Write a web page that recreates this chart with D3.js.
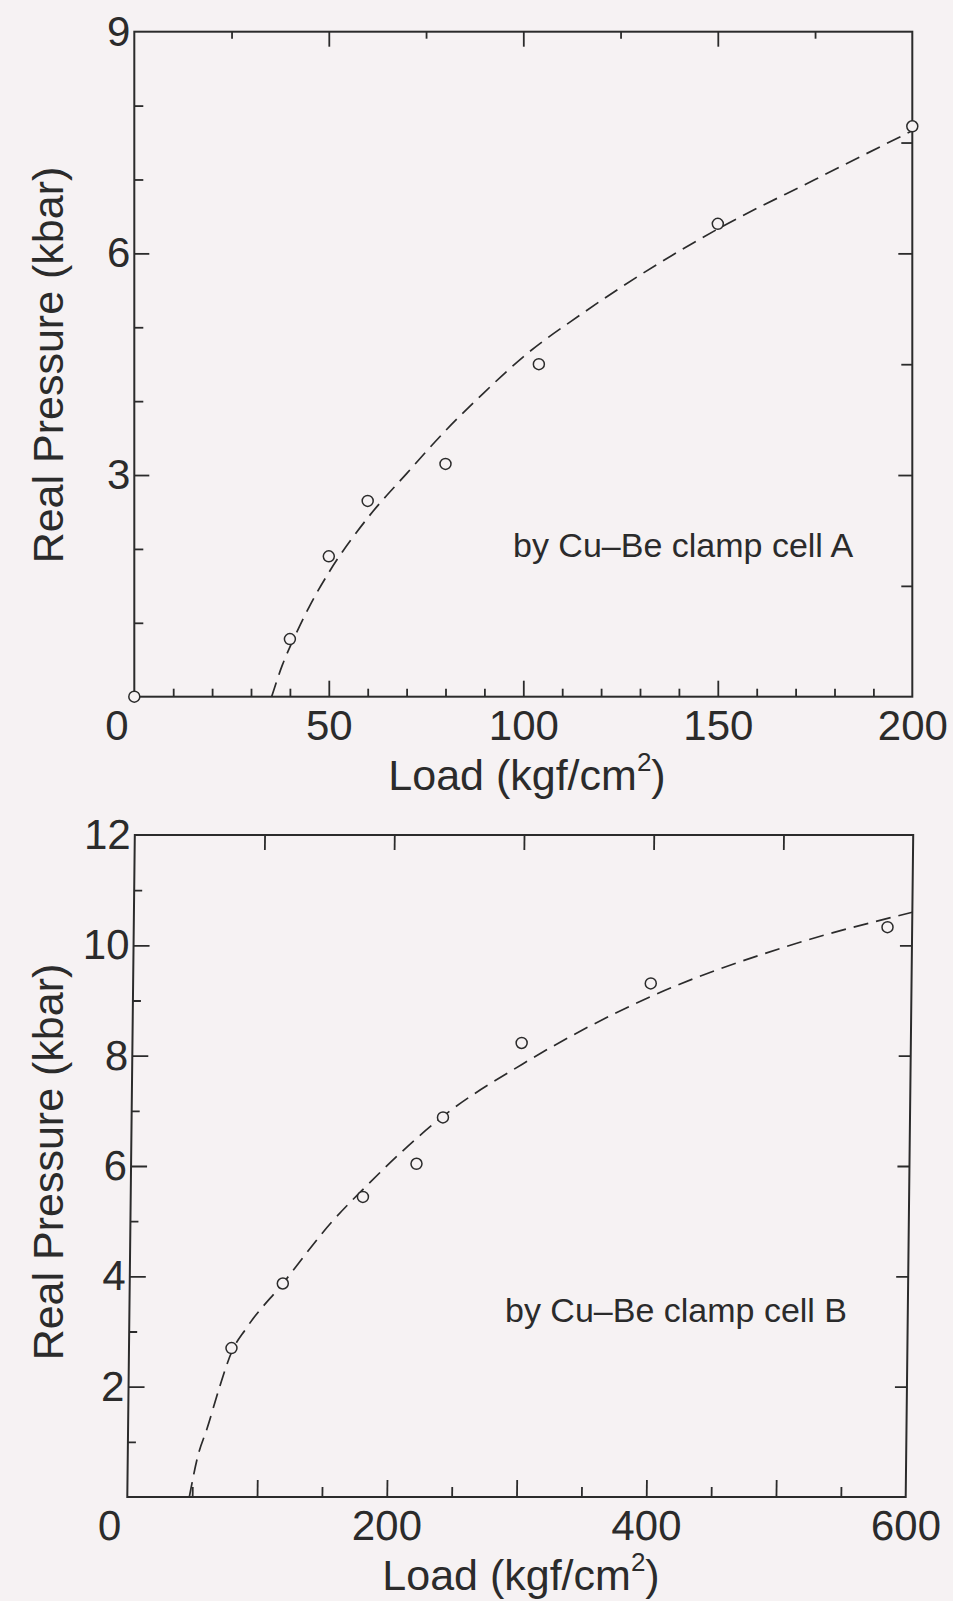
<!DOCTYPE html>
<html>
<head>
<meta charset="utf-8">
<script src="https://cdn.jsdelivr.net/npm/d3@7"></script>
<style>
    body { margin: 0; background: #f6f2f3; }
    svg { display: block; }
</style>
</head>
<body>
<svg id="chart" width="953" height="1601"></svg>
<script>
var loadA = [0, 40, 50, 60, 80, 104, 150, 200];
var pressA = [0, 0.78, 1.9, 2.65, 3.15, 4.5, 6.4, 7.72];
var guideLoadA = [35.3, 38, 41.3, 45, 50, 60, 70, 80, 90, 100, 115, 150, 175, 200];
var guidePressA = [0, 0.42, 0.82, 1.22, 1.68, 2.42, 3.02, 3.6, 4.12, 4.6, 5.18, 6.33, 7.0, 7.66];

// cell B
var loadB = [79, 118, 179, 220, 240, 300, 399, 581];
var pressB = [2.7, 3.87, 5.44, 6.04, 6.88, 8.23, 9.31, 10.33];
var guideLoadB = [47.8, 54, 61, 70, 79, 90, 118, 155, 180, 241, 301, 399, 502, 600];
var guidePressB = [0, 0.74, 1.25, 1.98, 2.62, 3.05, 3.87, 4.98, 5.6, 6.92, 7.85, 9.07, 9.97, 10.6];

var xLabelsA = [0, 50, 100, 150, 200];
var yLabelsA = [3, 6, 9];
var xLabelsB = [0, 200, 400, 600];
var yLabelsB = [2, 4, 6, 8, 10, 12];

var ink = "#2b2b2b";
var font = "'Liberation Sans', Arial, Helvetica, sans-serif";

var svg = d3.select("#chart");
svg.append("rect").attr("width", 953).attr("height", 1601).attr("fill", "#f6f2f3");

function zip(a, b) {
    return a.map(function (v, i) { return [v, b[i]]; });
}

function drawPanel(g, o) {
    var x = o.x, y = o.y;
    var x0 = x.range()[0], x1 = x.range()[1];
    var y0 = y.range()[0], y1 = y.range()[1];

    // ticks, all pointing inwards
    o.tickSets.forEach(function (ts) {
        var axis, pos;
        if (ts.side === "bottom") { axis = d3.axisBottom(x); pos = "translate(0," + y0 + ")"; }
        if (ts.side === "top") { axis = d3.axisTop(x); pos = "translate(0," + y1 + ")"; }
        if (ts.side === "left") { axis = d3.axisLeft(y); pos = "translate(" + x0 + ",0)"; }
        if (ts.side === "right") { axis = d3.axisRight(y); pos = "translate(" + x1 + ",0)"; }
        var t = g.append("g").attr("transform", pos)
            .call(axis.tickValues(ts.vals).tickSize(-ts.len).tickFormat(""));
        t.select(".domain").remove();
        t.selectAll("line").attr("stroke", ink).attr("stroke-width", 1.8);
    });

    g.append("rect")
        .attr("x", x0).attr("y", y1)
        .attr("width", x1 - x0).attr("height", y0 - y1)
        .attr("fill", "none").attr("stroke", ink).attr("stroke-width", 2);

    // tick labels
    var xl = g.append("g").attr("transform", "translate(0," + y0 + ")")
        .call(d3.axisBottom(x).tickValues(o.xLabels).tickSize(0).tickPadding(13).tickFormat(d3.format("d")));
    xl.select(".domain").remove();
    xl.selectAll("text").attr("font-size", 42).attr("font-family", font).attr("fill", ink)
        .attr("dx", function (d) { return d === 0 ? o.zeroShift : 0; });

    var yl = g.append("g").attr("transform", "translate(" + x0 + ",0)")
        .call(d3.axisLeft(y).tickValues(o.yLabels).tickSize(0).tickPadding(4).tickFormat(d3.format("d")));
    yl.select(".domain").remove();
    yl.selectAll("text").attr("font-size", 42).attr("font-family", font).attr("fill", ink);

    var line = d3.line()
        .x(function (d) { return x(d[0]); })
        .y(function (d) { return y(d[1]); })
        .curve(d3.curveMonotoneX);

    g.append("path")
        .datum(o.guide)
        .attr("d", line)
        .attr("fill", "none")
        .attr("stroke", ink)
        .attr("stroke-width", 1.7)
        .attr("stroke-dasharray", "15,8");

    g.selectAll("circle.pt").data(o.points).enter().append("circle")
        .attr("class", "pt")
        .attr("cx", function (d) { return x(d[0]); })
        .attr("cy", function (d) { return y(d[1]); })
        .attr("r", 5.5)
        .attr("fill", "#f6f2f3")
        .attr("stroke", ink)
        .attr("stroke-width", 1.5);
}

function titles(xt, yt) {
    var t = svg.append("text")
        .attr("x", xt[0]).attr("y", xt[1])
        .attr("text-anchor", "middle")
        .attr("font-size", 43).attr("font-family", font).attr("fill", ink);
    t.append("tspan").text("Load (kgf/cm");
    t.append("tspan").attr("font-size", 26).attr("dy", -19).text("2");
    t.append("tspan").attr("dy", 19).text(")");

    svg.append("text")
        .attr("transform", "translate(" + yt[0] + "," + yt[1] + ") rotate(-90)")
        .attr("text-anchor", "middle")
        .attr("font-size", 43).attr("font-family", font).attr("fill", ink)
        .text("Real Pressure (kbar)");
}

function note(txt, px, py) {
    svg.append("text")
        .attr("x", px).attr("y", py)
        .attr("font-size", 34).attr("font-family", font).attr("fill", ink)
        .text(txt);
}

// top panel
var xA = d3.scaleLinear().domain([0, 200]).range([134.3, 912.3]);
var yA = d3.scaleLinear().domain([0, 9]).range([696.7, 31.7]);

drawPanel(svg.append("g"), {
    x: xA, y: yA,
    xLabels: xLabelsA, yLabels: yLabelsA, zeroShift: -18,
    points: zip(loadA, pressA),
    guide: zip(guideLoadA, guidePressA),
    tickSets: [
        {side: "bottom", vals: [10, 20, 30, 40, 60, 70, 80, 90, 110, 120, 130, 140, 160, 170, 180, 190], len: 8},
        {side: "bottom", vals: [50, 100, 150], len: 16},
        {side: "top", vals: [25, 75, 125, 175], len: 7},
        {side: "top", vals: [50, 100, 150], len: 15},
        {side: "left", vals: [1, 2, 4, 5, 7, 8], len: 9},
        {side: "left", vals: [3, 6], len: 15},
        {side: "right", vals: [1.5, 4.5, 7.5], len: 11},
        {side: "right", vals: [3, 6], len: 14}
    ]
});
titles([527, 790], [63, 365]);
note("by Cu\u2013Be clamp cell A", 513, 557);

// bottom panel (the scan is slightly sheared)
var xB = d3.scaleLinear().domain([0, 600]).range([127.3, 905.7]);
var yB = d3.scaleLinear().domain([0, 12]).range([1497, 835]);

drawPanel(svg.append("g").attr("transform", "translate(0,1497) skewX(-0.65) translate(0,-1497)"), {
    x: xB, y: yB,
    xLabels: xLabelsB, yLabels: yLabelsB, zeroShift: -18,
    points: zip(loadB, pressB),
    guide: zip(guideLoadB, guidePressB),
    tickSets: [
        {side: "bottom", vals: [50, 150, 250, 350, 450, 550], len: 10},
        {side: "bottom", vals: [100, 200, 300, 400, 500], len: 17},
        {side: "top", vals: [100, 200, 300, 400, 500], len: 15},
        {side: "left", vals: [1, 3, 5, 7, 9, 11], len: 8},
        {side: "left", vals: [2, 4, 6, 8, 10], len: 16},
        {side: "right", vals: [2, 4, 6, 8, 10], len: 12}
    ]
});
titles([521, 1590], [63, 1162]);
note("by Cu\u2013Be clamp cell B", 505, 1322);
</script>
</body>
</html>
